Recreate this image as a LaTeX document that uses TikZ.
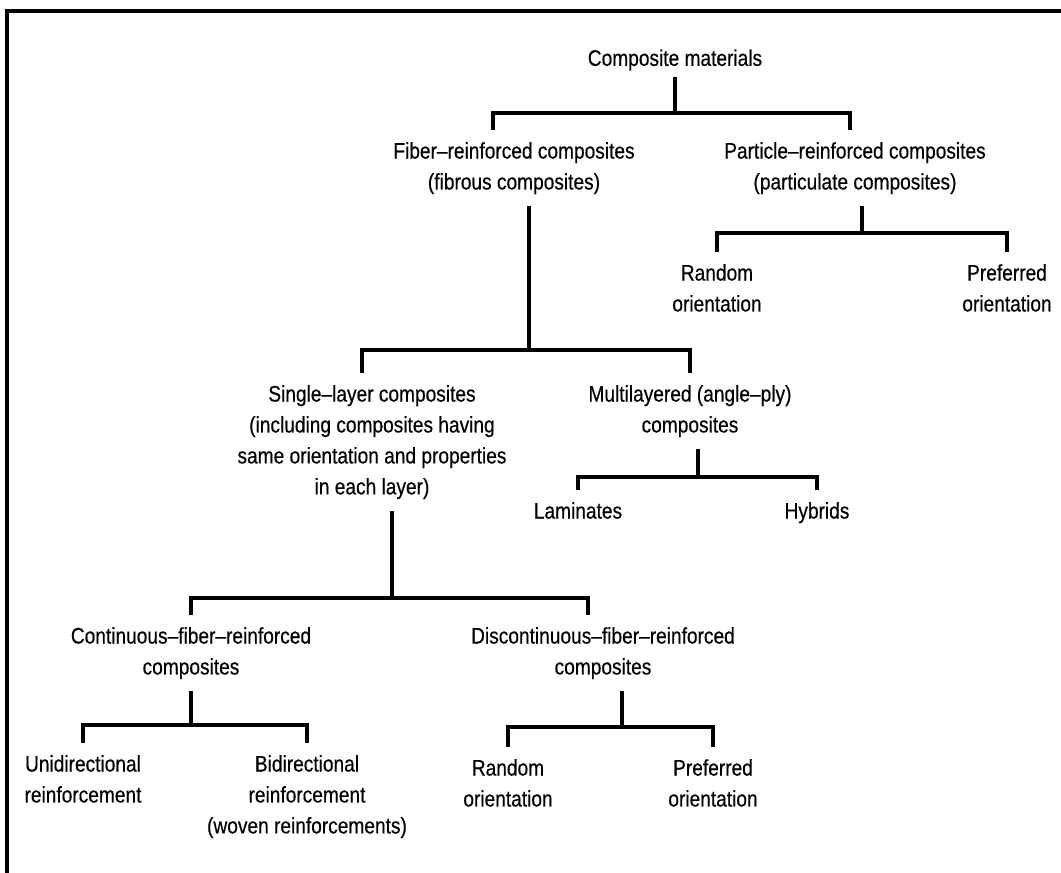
\documentclass[tikz,border=0pt]{standalone}
\usepackage{fontspec}
\setmainfont{Liberation Sans}[FakeStretch=0.85, FakeBold=0.4]
\usetikzlibrary{calc}

\begin{document}
\begin{tikzpicture}[
    x=0.025cm, y=-0.025cm,
    font=\fontsize{16}{22}\selectfont,
]

\tikzset{
    cls_node/.style = {align=center, anchor=north, inner xsep=2pt, inner ysep=8.5pt},
    root_node/.style = {align=center, inner xsep=2pt, inner ysep=4.5pt},
    branch/.style = {line width=2.2pt},
    frame_line/.style = {line width=2.8pt}
}

\useasboundingbox (0,0) rectangle (1061,873);

% Frame
\draw[frame_line] (7,873) -- (7,11) -- (1061,11);

% =========== NODES ===========
\node[root_node] (root) at (675,60) {Composite materials};

\node[cls_node] (fiber) at (514,130) {Fiber--reinforced composites\\(fibrous composites)};
\node[cls_node] (particle) at (855,130) {Particle--reinforced composites\\(particulate composites)};

\node[cls_node] (p_rand) at (717,252) {Random\\orientation};
\node[cls_node] (p_pref) at (1007,252) {Preferred\\orientation};

\node[cls_node] (single) at (372,373) {Single--layer composites\\(including composites having\\same orientation and properties\\in each layer)};
\node[cls_node] (multi) at (690,373) {Multilayered (angle--ply)\\composites};

\node[cls_node] (lam) at (578,490) {Laminates};
\node[cls_node] (hyb) at (817,490) {Hybrids};

\node[cls_node] (cont) at (191,615) {Continuous--fiber--reinforced\\composites};
\node[cls_node] (disc) at (603,615) {Discontinuous--fiber--reinforced\\composites};

\node[cls_node] (uni) at (83,743) {Unidirectional\\reinforcement};
\node[cls_node] (bi) at (307,743) {Bidirectional\\reinforcement\\(woven reinforcements)};

\node[cls_node] (d_rand) at (508,747) {Random\\orientation};
\node[cls_node] (d_pref) at (713,747) {Preferred\\orientation};

% =========== JUNCTIONS ===========
\coordinate (j_root) at (675,113);
\coordinate (j_part) at (862,233);
\coordinate (j_fib) at (529,350);
\coordinate (j_multi) at (698,477);
\coordinate (j_single) at (392,598);
\coordinate (j_cont) at (191,725);
\coordinate (j_disc) at (622,727);

% =========== BRANCHES ===========
\draw[branch] (root.south) -- (j_root);
\draw[branch] ($(fiber.north)+(-21,0)$) |- (j_root) -| ($(particle.north)+(-5,0)$);

\draw[branch] (particle.south -| j_part) -- (j_part);
\draw[branch] (p_rand.north) |- (j_part) -| (p_pref.north);

\draw[branch] (fiber.south -| j_fib) -- (j_fib);
\draw[branch] ($(single.north)+(-10,0)$) |- (j_fib) -| (multi.north);

\draw[branch] (multi.south -| j_multi) -- (j_multi);
\draw[branch] (lam.north) |- (j_multi) -| (hyb.north);

\draw[branch] (single.south -| j_single) -- (j_single);
\draw[branch] (cont.north) |- (j_single) -| ($(disc.north)+(-15,0)$);

\draw[branch] (cont.south -| j_cont) -- (j_cont);
\draw[branch] (uni.north) |- (j_cont) -| (bi.north);

\draw[branch] (disc.south -| j_disc) -- (j_disc);
\draw[branch] (d_rand.north) |- (j_disc) -| (d_pref.north);

\end{tikzpicture}
\end{document}
